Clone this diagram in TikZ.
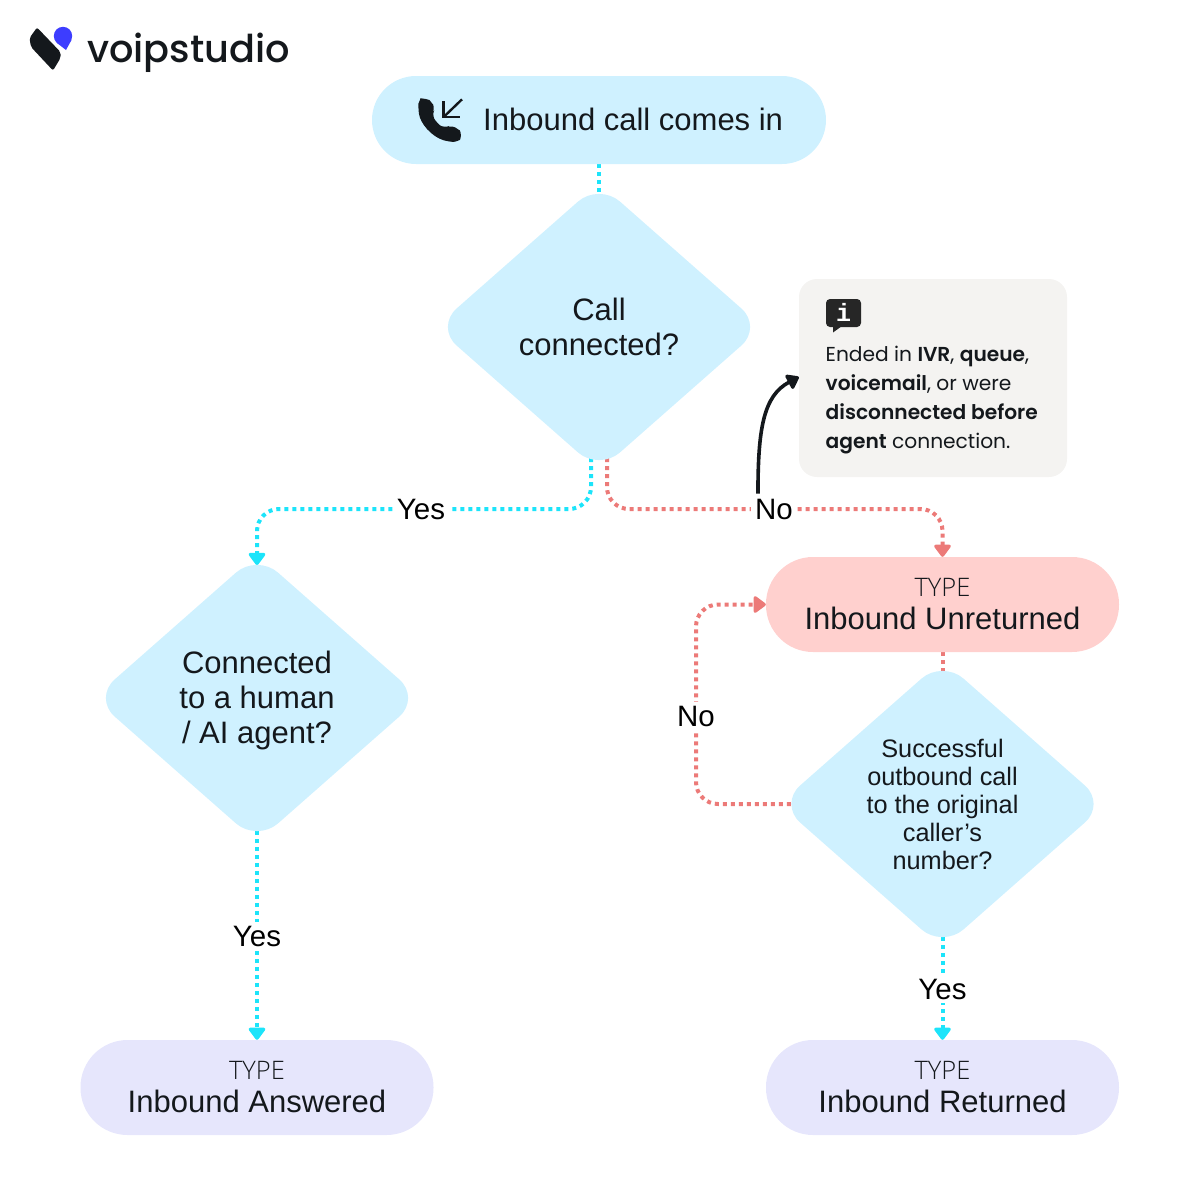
\documentclass[tikz,border=0pt]{standalone}
\usepackage{fontspec}
\setmainfont{Liberation Sans}
\newfontfamily\logof{Poppins Medium}
\newfontfamily\notef[BoldFont={Poppins SemiBold}]{Poppins}
\newfontfamily\lightf{Open Sans Light}
\newfontfamily\infof{Liberation Mono}
\usetikzlibrary{shapes.geometric,arrows.meta,backgrounds,calc}
\definecolor{cblue}{HTML}{CFF1FF}
\definecolor{cpink}{HTML}{FFD0CE}
\definecolor{clav}{HTML}{E6E6FC}
\definecolor{cnote}{HTML}{F4F3F1}
\definecolor{ccyan}{HTML}{1CE4FA}
\definecolor{cred}{HTML}{EC7A78}
\definecolor{ink}{HTML}{14181C}
\definecolor{cinfo}{HTML}{262626}
\definecolor{clogo}{HTML}{3D3DFF}
\tikzset{
 x=1pt,y=-1pt,
 dia/.style={diamond,fill=cblue,rounded corners=28pt,inner sep=0pt,minimum width=327pt,minimum height=288pt,shape aspect=1.133},
 diatext/.style={inner sep=0pt,align=center,text=ink,font=\fontsize{31}{35}\selectfont},
 diasmall/.style={diatext,font=\fontsize{25.3}{28}\selectfont},
 pill/.style={rectangle,rounded corners=47pt,inner sep=0pt,minimum width=353pt,minimum height=95pt,align=center,text=ink,font=\fontsize{31}{33}\selectfont},
 lab/.style={fill=white,inner sep=4pt,text=black,font=\fontsize{29.5}{30}\selectfont},
 tip/.style={-{Triangle[length=13.5pt,width=19pt,round]}},
 cyanline/.style={draw=ccyan,line width=4pt,dash pattern=on 4pt off 4pt,rounded corners=22pt},
 redline/.style={draw=cred,line width=4pt,dash pattern=on 4pt off 4pt,rounded corners=22pt},
}
\newcommand{\typeword}{{\lightf\fontsize{25.5}{33}\selectfont\color{ink}TYPE}}
\begin{document}
\begin{tikzpicture}
\useasboundingbox (0,0) rectangle (1200,1200);
% logo
\fill[ink,rounded corners=2pt] (29.5,38) -- (37,27.5) -- (60.5,52) -- (60.5,58) -- (53,70.5) -- (31,47) -- cycle;
\fill[clogo] (63,36) circle (9.2);
\fill[clogo] (57,43) -- (71.5,40) -- (66,50) -- cycle;
\node[anchor=base west,inner sep=0pt,text=ink,font=\logof\fontsize{38.3}{38}\selectfont] (logo) at (87,62) {voipstudio};
% nodes
\node[pill,fill=cblue,minimum width=454pt,minimum height=88pt,rounded corners=44pt] (start) at (599,120) {};
\node[anchor=west,inner sep=0pt,text=ink,font=\fontsize{31}{33}\selectfont] (starttext) at (483,119.5) {Inbound call comes in};
\begin{scope}[shift={(400,80)},x=0.3333pt,y=-0.3333pt]
\fill[ink,rounded corners=5pt] (55,85) .. controls (56,65) and (64,55) .. (75,55) .. controls (88,60) and (100,75) .. (104,88) -- (96,104) .. controls (106,122) and (118,135) .. (134,144) -- (152,136) .. controls (165,142) and (180,152) .. (186,165) .. controls (180,180) and (165,186) .. (145,185) .. controls (95,170) and (60,130) .. (55,85) -- cycle;
\draw[ink,line width=2.4pt] (186,58) -- (131,111);
\draw[ink,line width=2.4pt] (131,64) -- (131,111) -- (179,111);
\end{scope}
\node[dia] (d1) at (599,327) {};
\node[diatext] (d1text) at (599,327) {Call\\connected?};
\node[dia] (d2) at (257,698) {};
\node[diatext] (d2text) at (257,700) {Connected\\to a human\\/ AI agent?};
\node[dia] (d3) at (942.5,804) {};
\node[diasmall] (d3text) at (942.5,804) {Successful\\outbound call\\to the original\\caller’s\\number?};
\node[pill,fill=cpink] (unret) at (942.5,604.5) {\typeword\\Inbound Unreturned};
\node[pill,fill=clav] (ans) at (257,1087.5) {\typeword\\Inbound Answered};
\node[pill,fill=clav] (ret) at (942.5,1087.5) {\typeword\\Inbound Returned};
\node[rectangle,fill=cnote,rounded corners=18pt,minimum width=268pt,minimum height=198pt,inner sep=0pt] (note) at (933,378) {};
\fill[cinfo,rounded corners=4pt] (826,299) rectangle (861,327);
\fill[cinfo] (833,326) -- (833,332.5) -- (842,326) -- cycle;
\node[inner sep=0pt,text=white,font=\infof\bfseries\fontsize{25}{25}\selectfont] (infoi) at (843.5,312.5) {i};
\node[anchor=north west,inner sep=0pt,align=left,text=ink,font=\notef\fontsize{20.2}{29}\selectfont] (notetext) at (825.5,346) {Ended in \textbf{IVR}, \textbf{queue},\\\textbf{voicemail}, or were\\\textbf{disconnected before}\\\textbf{agent} connection.};
% labels
\node[lab] (lyes1) at (421,509) {Yes};
\node[lab] (lno1) at (774,509) {No};
\node[lab] (lyes2) at (257,936) {Yes};
\node[lab] (lno2) at (696,716) {No};
\node[lab] (lyes3) at (942.5,989) {Yes};
% connectors
\begin{pgfonlayer}{background}
\draw[cyanline] (start.south) -- ([yshift=-11pt]d1.north);
\draw[cyanline,tip] ([xshift=-8pt,yshift=13pt]d1.south) |- (lyes1.center) -| (d2.north |- 0,565);
\draw[redline,tip] ([xshift=8pt,yshift=13pt]d1.south) |- (lno1.center) -| (unret.north);
\draw[cyanline,tip] ([yshift=11pt]d2.south) -- (ans.north);
\draw[cyanline,tip] ([yshift=11pt]d3.south) -- (ret.north);
\draw[redline] (unret.south) -- ([yshift=-11pt]d3.north);
\draw[redline,tip] ([xshift=12pt]d3.west) -| (lno2.center) |- (unret.west);
\end{pgfonlayer}
\draw[ink,line width=3.6pt,-{Triangle[length=13pt,width=18pt,round]}] (lno1.north west) ++(7,-1) .. controls (758,430) and (763,396) .. (note.west |- 0,377);
\end{tikzpicture}
\end{document}
